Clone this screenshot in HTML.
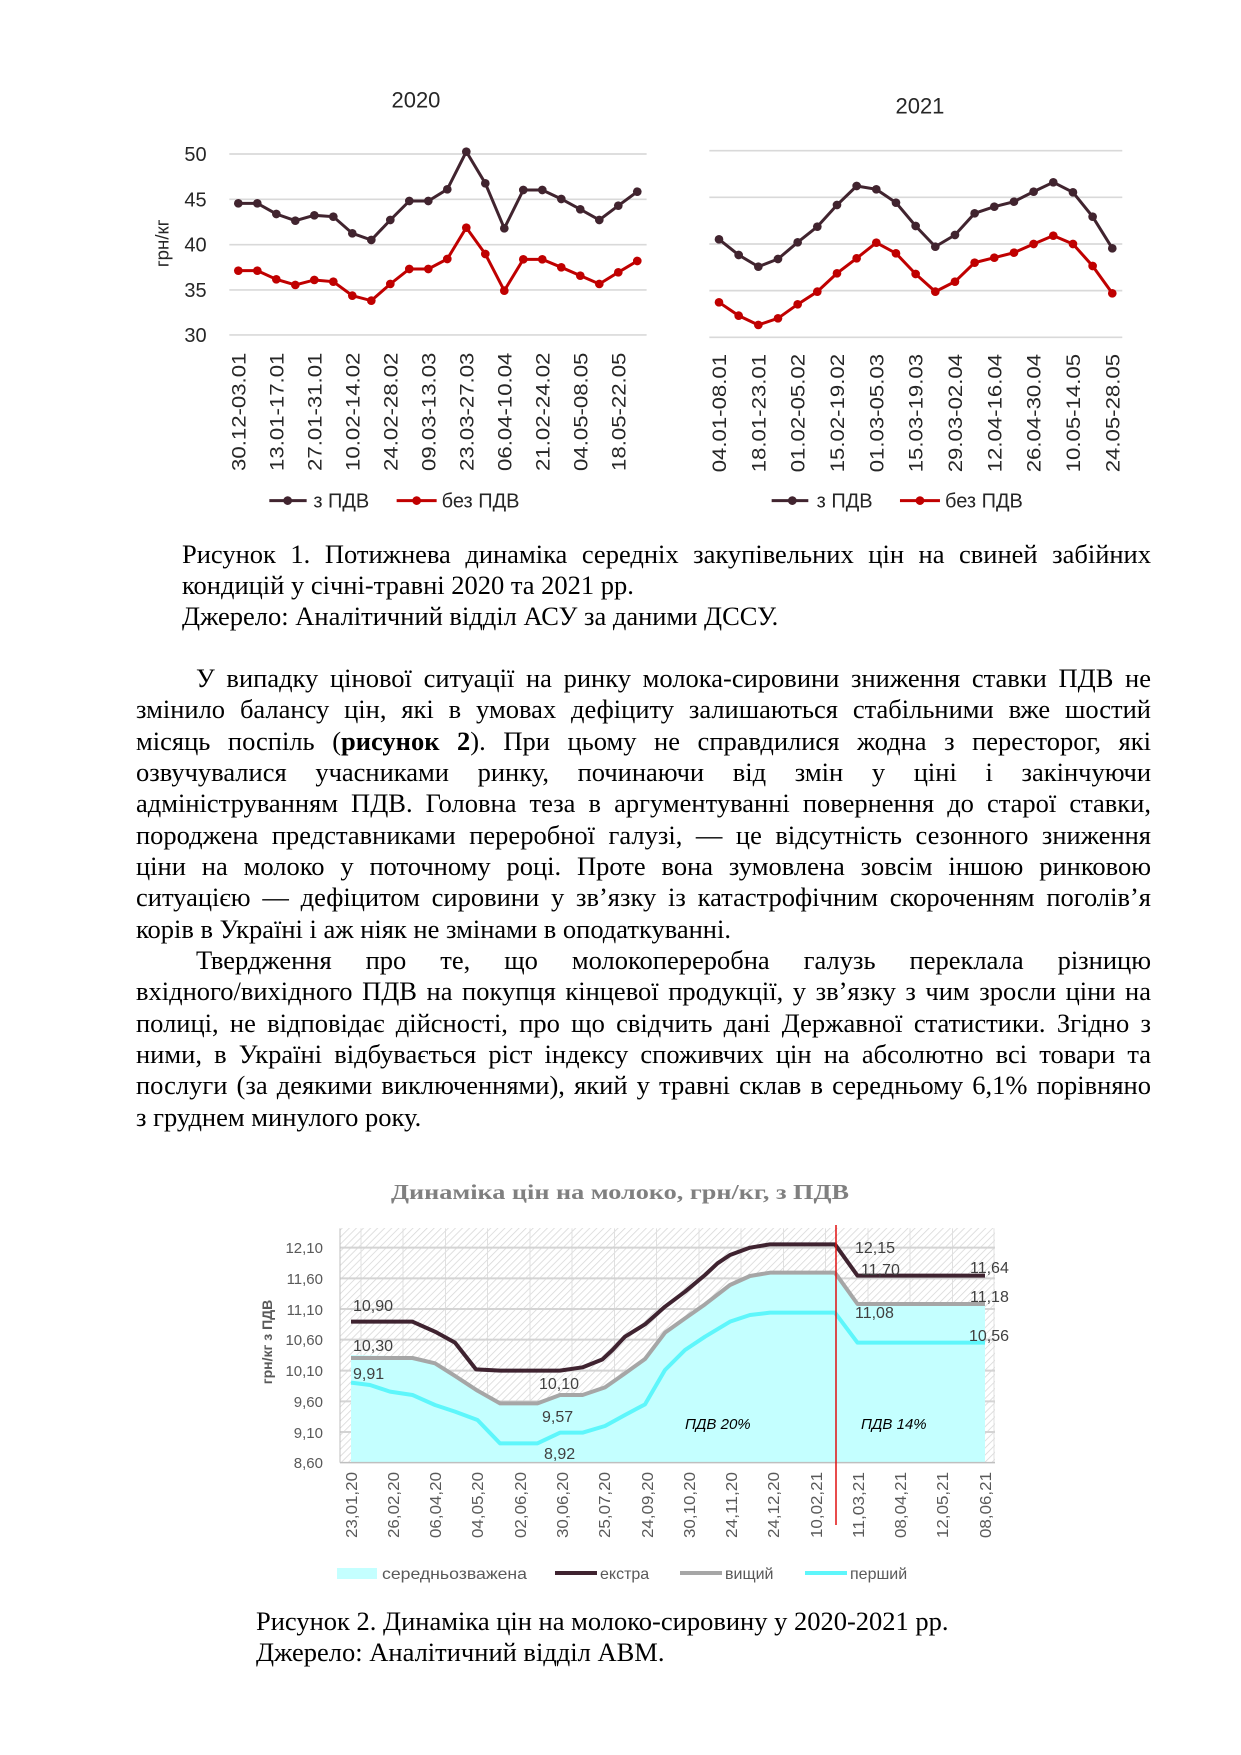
<!DOCTYPE html>
<html><head><meta charset="utf-8"><style>
body{margin:0;background:#fff}
#p{position:relative;width:1241px;height:1755px;overflow:hidden;background:#fff}
.t{position:absolute;font-family:"Liberation Serif",serif;font-size:26.5px;line-height:31.3px;color:#000;white-space:nowrap;text-align:justify;text-align-last:justify}
.l{text-align-last:left}
svg{position:absolute;left:0;top:0}
</style></head><body><div id="p">
<svg width="1241" height="1755" viewBox="0 0 1241 1755">
<defs>
<marker id="md" markerUnits="userSpaceOnUse" markerWidth="30" markerHeight="30" refX="15" refY="15"><circle cx="15" cy="15" r="13" fill="#41242f"/></marker>
<marker id="mr" markerUnits="userSpaceOnUse" markerWidth="30" markerHeight="30" refX="15" refY="15"><circle cx="15" cy="15" r="13" fill="#c00000"/></marker>
<pattern id="h" width="5" height="5" patternUnits="userSpaceOnUse" patternTransform="rotate(45)"><rect width="5" height="5" fill="#fff"/><line x1="0" y1="0" x2="0" y2="5" stroke="#d6d6d6" stroke-width="1.5"/></pattern>
</defs>
<g font-family="Liberation Sans, sans-serif" fill="#262626">
<g transform="translate(140,70) scale(0.3333)">
<text x="828" y="112" font-size="66" text-anchor="middle">2020</text>
<g stroke="#d9d9d9" stroke-width="5"><line x1="268" y1="252" x2="1520" y2="252"/><line x1="268" y1="388" x2="1520" y2="388"/><line x1="268" y1="524" x2="1520" y2="524"/><line x1="268" y1="660" x2="1520" y2="660"/><line x1="268" y1="795" x2="1520" y2="795"/></g>
<g font-size="60" text-anchor="end"><text x="200" y="273">50</text><text x="200" y="409">45</text><text x="200" y="545">40</text><text x="200" y="681">35</text><text x="200" y="816">30</text></g>
<text transform="translate(85,520) rotate(-90)" font-size="56" text-anchor="middle">грн/кг</text>
<polyline fill="none" stroke="#41242f" stroke-width="9" marker-start="url(#md)" marker-mid="url(#md)" marker-end="url(#md)" points="295,400 352,400 409,432 466,452 523,436 580,440 637,490 694,510 751,450 808,393 865,393 922,358 979,245 1036,340 1093,475 1150,360 1207,360 1264,387 1321,418 1378,450 1435,407 1492,365"/>
<polyline fill="none" stroke="#c00000" stroke-width="9" marker-start="url(#mr)" marker-mid="url(#mr)" marker-end="url(#mr)" points="295,602 352,602 409,628 466,645 523,630 580,635 637,677 694,692 751,642 808,597 865,597 922,567 979,473 1036,552 1093,662 1150,568 1207,568 1264,592 1321,617 1378,642 1435,607 1492,573"/>
<g font-size="58" text-anchor="end">
<text transform="translate(316,848) rotate(-90)" textLength="355" lengthAdjust="spacingAndGlyphs">30.12-03.01</text>
<text transform="translate(430,848) rotate(-90)" textLength="355" lengthAdjust="spacingAndGlyphs">13.01-17.01</text>
<text transform="translate(544,848) rotate(-90)" textLength="355" lengthAdjust="spacingAndGlyphs">27.01-31.01</text>
<text transform="translate(658,848) rotate(-90)" textLength="355" lengthAdjust="spacingAndGlyphs">10.02-14.02</text>
<text transform="translate(772,848) rotate(-90)" textLength="355" lengthAdjust="spacingAndGlyphs">24.02-28.02</text>
<text transform="translate(886,848) rotate(-90)" textLength="355" lengthAdjust="spacingAndGlyphs">09.03-13.03</text>
<text transform="translate(1000,848) rotate(-90)" textLength="355" lengthAdjust="spacingAndGlyphs">23.03-27.03</text>
<text transform="translate(1114,848) rotate(-90)" textLength="355" lengthAdjust="spacingAndGlyphs">06.04-10.04</text>
<text transform="translate(1228,848) rotate(-90)" textLength="355" lengthAdjust="spacingAndGlyphs">21.02-24.02</text>
<text transform="translate(1342,848) rotate(-90)" textLength="355" lengthAdjust="spacingAndGlyphs">04.05-08.05</text>
<text transform="translate(1456,848) rotate(-90)" textLength="355" lengthAdjust="spacingAndGlyphs">18.05-22.05</text>
</g>
<line x1="388" y1="1292" x2="500" y2="1292" stroke="#41242f" stroke-width="9"/><circle cx="443" cy="1292" r="13" fill="#41242f"/>
<text x="520" y="1312" font-size="60">з ПДВ</text>
<line x1="770" y1="1292" x2="890" y2="1292" stroke="#c00000" stroke-width="9"/><circle cx="830" cy="1292" r="13" fill="#c00000"/>
<text x="905" y="1312" font-size="60">без ПДВ</text>
</g>
<g transform="translate(640,70) scale(0.3333)">
<text x="840" y="130" font-size="66" text-anchor="middle">2021</text>
<g stroke="#d9d9d9" stroke-width="5"><line x1="208" y1="242" x2="1447" y2="242"/><line x1="208" y1="382" x2="1447" y2="382"/><line x1="208" y1="522" x2="1447" y2="522"/><line x1="208" y1="662" x2="1447" y2="662"/><line x1="208" y1="802" x2="1447" y2="802"/></g>
<polyline fill="none" stroke="#41242f" stroke-width="9" marker-start="url(#md)" marker-mid="url(#md)" marker-end="url(#md)" points="237,508 296,555 355,590 414,567 473,517 532,470 591,405 650,348 709,358 768,398 827,468 886,530 945,495 1004,430 1063,410 1122,395 1181,365 1240,337 1299,367 1358,440 1417,535"/>
<polyline fill="none" stroke="#c00000" stroke-width="9" marker-start="url(#mr)" marker-mid="url(#mr)" marker-end="url(#mr)" points="237,697 296,737 355,765 414,745 473,703 532,665 591,610 650,565 709,518 768,550 827,612 886,665 945,635 1004,578 1063,563 1122,548 1181,522 1240,497 1299,522 1358,588 1417,670"/>
<g font-size="58" text-anchor="end">
<text transform="translate(258,852) rotate(-90)" textLength="355" lengthAdjust="spacingAndGlyphs">04.01-08.01</text>
<text transform="translate(376,852) rotate(-90)" textLength="355" lengthAdjust="spacingAndGlyphs">18.01-23.01</text>
<text transform="translate(494,852) rotate(-90)" textLength="355" lengthAdjust="spacingAndGlyphs">01.02-05.02</text>
<text transform="translate(612,852) rotate(-90)" textLength="355" lengthAdjust="spacingAndGlyphs">15.02-19.02</text>
<text transform="translate(730,852) rotate(-90)" textLength="355" lengthAdjust="spacingAndGlyphs">01.03-05.03</text>
<text transform="translate(848,852) rotate(-90)" textLength="355" lengthAdjust="spacingAndGlyphs">15.03-19.03</text>
<text transform="translate(966,852) rotate(-90)" textLength="355" lengthAdjust="spacingAndGlyphs">29.03-02.04</text>
<text transform="translate(1084,852) rotate(-90)" textLength="355" lengthAdjust="spacingAndGlyphs">12.04-16.04</text>
<text transform="translate(1202,852) rotate(-90)" textLength="355" lengthAdjust="spacingAndGlyphs">26.04-30.04</text>
<text transform="translate(1320,852) rotate(-90)" textLength="355" lengthAdjust="spacingAndGlyphs">10.05-14.05</text>
<text transform="translate(1438,852) rotate(-90)" textLength="355" lengthAdjust="spacingAndGlyphs">24.05-28.05</text>
</g>
<line x1="395" y1="1292" x2="505" y2="1292" stroke="#41242f" stroke-width="9"/><circle cx="457" cy="1292" r="13" fill="#41242f"/>
<text x="530" y="1312" font-size="60">з ПДВ</text>
<line x1="780" y1="1292" x2="900" y2="1292" stroke="#c00000" stroke-width="9"/><circle cx="840" cy="1292" r="13" fill="#c00000"/>
<text x="915" y="1312" font-size="60">без ПДВ</text>
</g>
</g>

<text x="620" y="1199" font-family="Liberation Serif, serif" font-weight="bold" font-size="21" fill="#808080" text-anchor="middle" textLength="458" lengthAdjust="spacingAndGlyphs">Динаміка цін на молоко, грн/кг, з ПДВ</text>
<rect x="340" y="1228" width="655" height="235" fill="url(#h)"/>
<g transform="translate(230,1160) scale(0.5,0.33333)">
<g stroke="#e0e0e0" stroke-width="1">
<line x1="262" y1="205" x2="262" y2="908" vector-effect="non-scaling-stroke"/><line x1="346" y1="205" x2="346" y2="908" vector-effect="non-scaling-stroke"/><line x1="431" y1="205" x2="431" y2="908" vector-effect="non-scaling-stroke"/><line x1="515" y1="205" x2="515" y2="908" vector-effect="non-scaling-stroke"/><line x1="600" y1="205" x2="600" y2="908" vector-effect="non-scaling-stroke"/><line x1="684" y1="205" x2="684" y2="908" vector-effect="non-scaling-stroke"/><line x1="769" y1="205" x2="769" y2="908" vector-effect="non-scaling-stroke"/><line x1="853" y1="205" x2="853" y2="908" vector-effect="non-scaling-stroke"/><line x1="938" y1="205" x2="938" y2="908" vector-effect="non-scaling-stroke"/><line x1="1022" y1="205" x2="1022" y2="908" vector-effect="non-scaling-stroke"/><line x1="1107" y1="205" x2="1107" y2="908" vector-effect="non-scaling-stroke"/><line x1="1191" y1="205" x2="1191" y2="908" vector-effect="non-scaling-stroke"/><line x1="1276" y1="205" x2="1276" y2="908" vector-effect="non-scaling-stroke"/><line x1="1360" y1="205" x2="1360" y2="908" vector-effect="non-scaling-stroke"/><line x1="1445" y1="205" x2="1445" y2="908" vector-effect="non-scaling-stroke"/><line x1="1528" y1="205" x2="1528" y2="908" vector-effect="non-scaling-stroke"/>
</g>
<g stroke="#d4d4d4" stroke-width="2">
<line x1="220" y1="263" x2="1530" y2="263" vector-effect="non-scaling-stroke"/><line x1="220" y1="355" x2="1530" y2="355" vector-effect="non-scaling-stroke"/><line x1="220" y1="447" x2="1530" y2="447" vector-effect="non-scaling-stroke"/><line x1="220" y1="539" x2="1530" y2="539" vector-effect="non-scaling-stroke"/><line x1="220" y1="632" x2="1530" y2="632" vector-effect="non-scaling-stroke"/><line x1="220" y1="724" x2="1530" y2="724" vector-effect="non-scaling-stroke"/><line x1="220" y1="816" x2="1530" y2="816" vector-effect="non-scaling-stroke"/>
</g>
<polygon fill="#c4ffff" points="242,585 365,590 410,606 450,645 495,690 540,728 615,728 660,703 705,703 750,680 790,638 830,595 870,516 910,473 950,431 1000,373 1040,346 1080,336 1210,336 1255,430 1510,430 1510,908 242,908"/>
<line x1="220" y1="908" x2="1530" y2="908" stroke="#bfbfbf" stroke-width="1.5" vector-effect="non-scaling-stroke"/>
<line x1="220" y1="205" x2="220" y2="908" stroke="#bfbfbf" stroke-width="1" vector-effect="non-scaling-stroke"/>
<polyline fill="none" stroke="#5ef6fb" stroke-width="4" stroke-linejoin="round" vector-effect="non-scaling-stroke" points="242,668 280,675 320,695 365,705 410,735 450,755 495,780 540,850 615,850 660,818 705,818 750,798 790,765 830,733 870,630 910,570 950,530 1000,485 1040,465 1080,458 1210,458 1255,548 1510,548"/>
<polyline fill="none" stroke="#a6a6a6" stroke-width="4" stroke-linejoin="round" vector-effect="non-scaling-stroke" points="242,594 365,594 410,610 450,648 495,692 540,730 615,730 660,705 705,705 750,682 790,640 830,597 870,518 910,475 950,433 1000,375 1040,348 1080,338 1210,338 1255,432 1510,432"/>
<polyline fill="none" stroke="#3f2330" stroke-width="4" stroke-linejoin="round" vector-effect="non-scaling-stroke" points="242,485 365,485 410,515 450,548 492,628 540,632 660,632 705,622 745,598 765,570 790,530 830,493 870,440 910,395 950,345 975,310 1000,285 1040,263 1080,253 1210,253 1255,347 1510,347"/>
<line x1="1212" y1="195" x2="1212" y2="1095" stroke="#e01010" stroke-width="1.5" vector-effect="non-scaling-stroke"/>
</g>
<g font-family="Liberation Sans, sans-serif" font-size="15" fill="#595959">
<g text-anchor="end"><text x="323" y="1253">12,10</text><text x="323" y="1284">11,60</text><text x="323" y="1315">11,10</text><text x="323" y="1345">10,60</text><text x="323" y="1376">10,10</text><text x="323" y="1407">9,60</text><text x="323" y="1438">9,10</text><text x="323" y="1468">8,60</text></g>
<text transform="translate(272,1342) rotate(-90)" font-size="14" font-weight="bold" text-anchor="middle">грн/кг з ПДВ</text>
<g text-anchor="end" font-size="16">
<text transform="translate(357,1472) rotate(-90)" textLength="66" lengthAdjust="spacingAndGlyphs">23,01,20</text>
<text transform="translate(399,1472) rotate(-90)" textLength="66" lengthAdjust="spacingAndGlyphs">26,02,20</text>
<text transform="translate(441,1472) rotate(-90)" textLength="66" lengthAdjust="spacingAndGlyphs">06,04,20</text>
<text transform="translate(483,1472) rotate(-90)" textLength="66" lengthAdjust="spacingAndGlyphs">04,05,20</text>
<text transform="translate(526,1472) rotate(-90)" textLength="66" lengthAdjust="spacingAndGlyphs">02,06,20</text>
<text transform="translate(568,1472) rotate(-90)" textLength="66" lengthAdjust="spacingAndGlyphs">30,06,20</text>
<text transform="translate(610,1472) rotate(-90)" textLength="66" lengthAdjust="spacingAndGlyphs">25,07,20</text>
<text transform="translate(653,1472) rotate(-90)" textLength="66" lengthAdjust="spacingAndGlyphs">24,09,20</text>
<text transform="translate(695,1472) rotate(-90)" textLength="66" lengthAdjust="spacingAndGlyphs">30,10,20</text>
<text transform="translate(737,1472) rotate(-90)" textLength="66" lengthAdjust="spacingAndGlyphs">24,11,20</text>
<text transform="translate(779,1472) rotate(-90)" textLength="66" lengthAdjust="spacingAndGlyphs">24,12,20</text>
<text transform="translate(822,1472) rotate(-90)" textLength="66" lengthAdjust="spacingAndGlyphs">10,02,21</text>
<text transform="translate(864,1472) rotate(-90)" textLength="66" lengthAdjust="spacingAndGlyphs">11,03,21</text>
<text transform="translate(906,1472) rotate(-90)" textLength="66" lengthAdjust="spacingAndGlyphs">08,04,21</text>
<text transform="translate(948,1472) rotate(-90)" textLength="66" lengthAdjust="spacingAndGlyphs">12,05,21</text>
<text transform="translate(991,1472) rotate(-90)" textLength="66" lengthAdjust="spacingAndGlyphs">08,06,21</text>
</g>
<g fill="#404040" font-size="16">
<text x="353" y="1311">10,90</text><text x="353" y="1351">10,30</text><text x="353" y="1379">9,91</text>
<text x="539" y="1389">10,10</text><text x="542" y="1422">9,57</text><text x="544" y="1459">8,92</text>
<text x="855" y="1253">12,15</text><text x="861" y="1275">11,70</text><text x="970" y="1273">11,64</text>
<text x="855" y="1318">11,08</text><text x="970" y="1302">11,18</text><text x="969" y="1341">10,56</text>
</g>
<g fill="#000" font-style="italic" font-size="15"><text x="685" y="1429">ПДВ 20%</text><text x="861" y="1429">ПДВ 14%</text></g>
<rect x="337" y="1568" width="40" height="11" fill="#c4ffff"/><text x="382" y="1579" font-size="16" textLength="145" lengthAdjust="spacingAndGlyphs">середньозважена</text>
<line x1="555" y1="1573" x2="597" y2="1573" stroke="#3f2330" stroke-width="4"/><text x="600" y="1579" font-size="16">екстра</text>
<line x1="680" y1="1573" x2="722" y2="1573" stroke="#a6a6a6" stroke-width="4"/><text x="725" y="1579" font-size="16">вищий</text>
<line x1="805" y1="1573" x2="847" y2="1573" stroke="#5ef6fb" stroke-width="4"/><text x="850" y="1579" font-size="16">перший</text>
</g>
</svg>

<div class="t" style="left:182px;top:539px;width:969px">Рисунок 1. Потижнева динаміка середніх закупівельних цін на свиней забійних</div>
<div class="t l" style="left:182px;top:570px;width:969px">кондицій у січні-травні 2020 та 2021 рр.</div>
<div class="t l" style="left:182px;top:601px;width:969px">Джерело: Аналітичний відділ АСУ за даними ДССУ.</div>

<div class="t" style="left:196px;top:663px;width:955px">У випадку цінової ситуації на ринку молока-сировини зниження ставки ПДВ не</div>
<div class="t" style="left:136px;top:694px;width:1015px">змінило балансу цін, які в умовах дефіциту залишаються стабільними вже шостий</div>
<div class="t" style="left:136px;top:726px;width:1015px">місяць поспіль (<b>рисунок 2</b>). При цьому не справдилися жодна з пересторог, які</div>
<div class="t" style="left:136px;top:757px;width:1015px">озвучувалися учасниками ринку, починаючи від змін у ціні і закінчуючи</div>
<div class="t" style="left:136px;top:788px;width:1015px">адмініструванням ПДВ. Головна теза в аргументуванні повернення до старої ставки,</div>
<div class="t" style="left:136px;top:820px;width:1015px">породжена представниками переробної галузі, — це відсутність сезонного зниження</div>
<div class="t" style="left:136px;top:851px;width:1015px">ціни на молоко у поточному році. Проте вона зумовлена зовсім іншою ринковою</div>
<div class="t" style="left:136px;top:882px;width:1015px">ситуацією — дефіцитом сировини у зв’язку із катастрофічним скороченням поголів’я</div>
<div class="t l" style="left:136px;top:914px;width:1015px">корів в Україні і аж ніяк не змінами в оподаткуванні.</div>
<div class="t" style="left:196px;top:945px;width:955px">Твердження про те, що молокопереробна галузь переклала різницю</div>
<div class="t" style="left:136px;top:976px;width:1015px">вхідного/вихідного ПДВ на покупця кінцевої продукції, у зв’язку з чим зросли ціни на</div>
<div class="t" style="left:136px;top:1008px;width:1015px">полиці, не відповідає дійсності, про що свідчить дані Державної статистики. Згідно з</div>
<div class="t" style="left:136px;top:1039px;width:1015px">ними, в Україні відбувається ріст індексу споживчих цін на абсолютно всі товари та</div>
<div class="t" style="left:136px;top:1070px;width:1015px">послуги (за деякими виключеннями), який у травні склав в середньому 6,1% порівняно</div>
<div class="t l" style="left:136px;top:1102px;width:1015px">з груднем минулого року.</div>

<div class="t l" style="left:256px;top:1606px;width:900px">Рисунок 2. Динаміка цін на молоко-сировину у 2020-2021 рр.</div>
<div class="t l" style="left:256px;top:1637px;width:900px">Джерело: Аналітичний відділ АВМ.</div>
</div></body></html>
